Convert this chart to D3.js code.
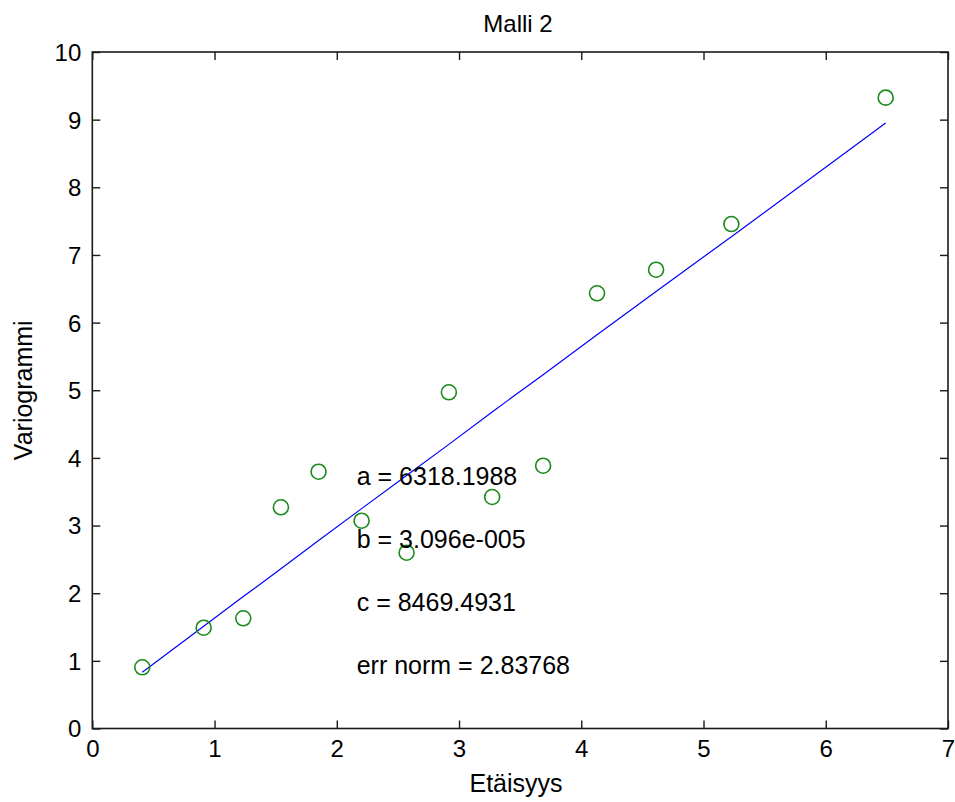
<!DOCTYPE html>
<html>
<head>
<meta charset="utf-8">
<script src="https://cdn.jsdelivr.net/npm/d3@7"></script>
<style>
  html, body { margin: 0; padding: 0; background: #fff; }
  svg { display: block; font-family: "Liberation Sans", Arial, sans-serif; }
</style>
</head>
<body>
<svg id="chart" width="955" height="802"></svg>
<script>
// ---- data ----
const distances = [0.409, 0.911, 1.235, 1.543, 1.851, 2.203, 2.571, 2.917, 3.271, 3.688, 4.129, 4.612, 5.228, 6.490];
const variogram = [0.905, 1.490, 1.629, 3.270, 3.796, 3.072, 2.599, 4.970, 3.422, 3.885, 6.433, 6.782, 7.457, 9.325];
const fitted    = [0.83, 1.51, 1.95, 2.36, 2.78, 3.25, 3.74, 4.20, 4.68, 5.23, 5.82, 6.46, 7.27, 8.95];
const xTicks = [0, 1, 2, 3, 4, 5, 6, 7];
const yTicks = [0, 1, 2, 3, 4, 5, 6, 7, 8, 9, 10];
const annotations = ["a = 6318.1988", "b = 3.096e-005", "c = 8469.4931", "err norm = 2.83768"];
const annotX = [2.163, 2.163, 2.163, 2.163];
const annotY = [3.73, 2.80, 1.87, 0.93];
const titleText = "Malli 2";
const xLabel = "Etäisyys";
const yLabel = "Variogrammi";

// ---- layout ----
const svg = d3.select("#chart");
const L = 92.3, R = 948, T = 52, B = 728.5;
const x = d3.scaleLinear().domain([0, 7]).range([L, R]);
const y = d3.scaleLinear().domain([0, 10]).range([B, T]);

svg.append("rect").attr("width", 955).attr("height", 802).attr("fill", "#fff");

const tickLen = 8;
const axisColor = "#1a1a1a";

// Axes via d3 (ticks inward)
const fontTick = "24px";
const gx = svg.append("g").attr("transform", `translate(0,${B})`)
  .call(d3.axisBottom(x).tickValues(xTicks).tickFormat(d3.format("d")).tickSizeInner(-tickLen).tickSizeOuter(0).tickPadding(11));
const gxTop = svg.append("g").attr("transform", `translate(0,${T})`)
  .call(d3.axisTop(x).tickValues(xTicks).tickFormat("").tickSizeInner(-tickLen).tickSizeOuter(0));
const gy = svg.append("g").attr("transform", `translate(${L},0)`)
  .call(d3.axisLeft(y).tickValues(yTicks).tickFormat(d3.format("d")).tickSizeInner(-tickLen).tickSizeOuter(0).tickPadding(11));
const gyR = svg.append("g").attr("transform", `translate(${R},0)`)
  .call(d3.axisRight(y).tickValues(yTicks).tickFormat("").tickSizeInner(-tickLen).tickSizeOuter(0));

[gx, gxTop, gy, gyR].forEach(g => {
  g.select(".domain").remove();
  g.selectAll("line").attr("stroke", axisColor).attr("stroke-width", 1.4);
  g.selectAll("text").attr("fill", "#000").style("font-size", fontTick).style("font-family", '"Liberation Sans", Arial, sans-serif');
});
gx.selectAll("text").attr("dy", "0.71em");
gy.selectAll("text").attr("dy", "0.35em");

// Box
svg.append("rect")
  .attr("x", L).attr("y", T).attr("width", R - L).attr("height", B - T)
  .attr("fill", "none").attr("stroke", axisColor).attr("stroke-width", 1.6);

// Fitted line
const line = d3.line().x((d, i) => x(distances[i])).y(d => y(d));
svg.append("path").datum(fitted)
  .attr("d", line).attr("fill", "none").attr("stroke", "#0000ff").attr("stroke-width", 1.2);

// Points
svg.append("g").selectAll("circle").data(variogram).join("circle")
  .attr("cx", (d, i) => x(distances[i])).attr("cy", d => y(d)).attr("r", 7.5)
  .attr("fill", "none").attr("stroke", "#1a8a1a").attr("stroke-width", 1.6);

// Annotations
svg.append("g").selectAll("text").data(annotations).join("text")
  .attr("x", (d, i) => x(annotX[i])).attr("y", (d, i) => y(annotY[i])).attr("dy", "0.35em")
  .style("font-size", "25px").attr("fill", "#000").text(d => d);

// Title & labels
svg.append("text").attr("x", 518).attr("y", 32).attr("text-anchor", "middle")
  .style("font-size", "24px").attr("fill", "#000").text(titleText);
svg.append("text").attr("x", 516).attr("y", 792).attr("text-anchor", "middle")
  .style("font-size", "25px").attr("fill", "#000").text(xLabel);
svg.append("text").attr("transform", `translate(32,${(T + B) / 2}) rotate(-90)`).attr("text-anchor", "middle")
  .style("font-size", "25px").attr("fill", "#000").text(yLabel);
</script>
</body>
</html>
